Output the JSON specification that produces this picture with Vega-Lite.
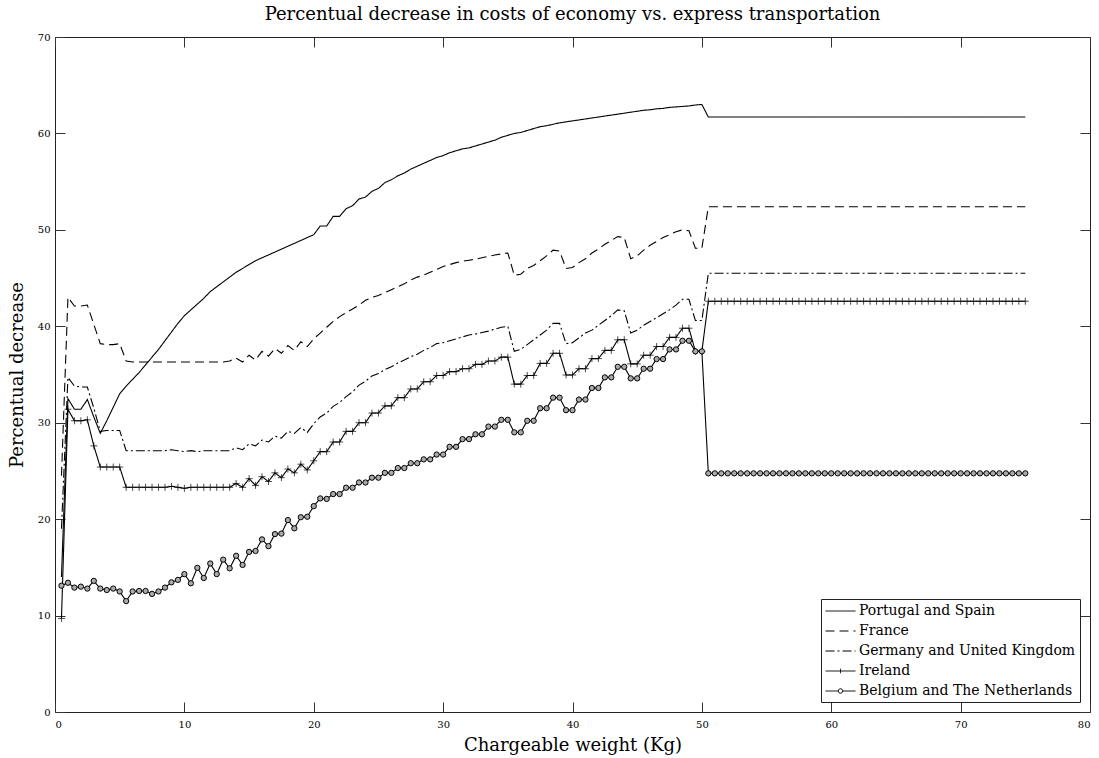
{
"$schema": "https://vega.github.io/schema/vega-lite/v6.json",
"width": 1035, "height": 675,
"autosize": {"type": "none"},
"padding": {"left": 55, "top": 37, "right": 9, "bottom": 46},
"background": "white",
"title": {"text": "Percentual decrease in costs of economy vs. express transportation", "font": "DejaVu Serif", "fontSize": 18, "fontWeight": "normal", "color": "black", "offset": 8, "anchor": "middle"},
"data": {"values": [
{"x":0.5,"P":14,"F":24.5,"G":19,"I":9.7,"B":13.1},
{"x":1,"P":32.5,"F":43.0,"G":34.7,"I":31.4,"B":13.4},
{"x":1.5,"P":31.4,"F":42.1,"G":33.8,"I":30.2,"B":12.9},
{"x":2,"P":31.4,"F":42.1,"G":33.7,"I":30.2,"B":13.0},
{"x":2.5,"P":32.4,"F":42.2,"G":33.7,"I":30.3,"B":12.8},
{"x":3,"P":30.6,"F":40.2,"G":31.5,"I":27.6,"B":13.6},
{"x":3.5,"P":28.9,"F":38.2,"G":29.1,"I":25.4,"B":12.8},
{"x":4,"P":30.2,"F":38.1,"G":29.2,"I":25.4,"B":12.65},
{"x":4.5,"P":31.6,"F":38.1,"G":29.2,"I":25.4,"B":12.8},
{"x":5,"P":33.0,"F":38.2,"G":29.2,"I":25.4,"B":12.5},
{"x":5.5,"P":33.8,"F":36.4,"G":27.1,"I":23.3,"B":11.5},
{"x":6,"P":34.5,"F":36.3,"G":27.1,"I":23.3,"B":12.5},
{"x":6.5,"P":35.2,"F":36.3,"G":27.1,"I":23.3,"B":12.55},
{"x":7,"P":36.0,"F":36.3,"G":27.1,"I":23.3,"B":12.55},
{"x":7.5,"P":36.8,"F":36.3,"G":27.1,"I":23.3,"B":12.25},
{"x":8,"P":37.6,"F":36.3,"G":27.1,"I":23.3,"B":12.5},
{"x":8.5,"P":38.5,"F":36.3,"G":27.1,"I":23.3,"B":12.9},
{"x":9,"P":39.4,"F":36.3,"G":27.2,"I":23.4,"B":13.45},
{"x":9.5,"P":40.3,"F":36.3,"G":27.1,"I":23.3,"B":13.7},
{"x":10,"P":41.1,"F":36.3,"G":27.0,"I":23.2,"B":14.3},
{"x":10.5,"P":41.7,"F":36.3,"G":27.1,"I":23.3,"B":13.35},
{"x":11,"P":42.3,"F":36.3,"G":27.0,"I":23.3,"B":14.95},
{"x":11.5,"P":42.9,"F":36.3,"G":27.1,"I":23.3,"B":13.9},
{"x":12,"P":43.6,"F":36.3,"G":27.1,"I":23.3,"B":15.4},
{"x":12.5,"P":44.1,"F":36.3,"G":27.1,"I":23.3,"B":14.3},
{"x":13,"P":44.6,"F":36.3,"G":27.1,"I":23.3,"B":15.8},
{"x":13.5,"P":45.1,"F":36.4,"G":27.1,"I":23.3,"B":14.9},
{"x":14,"P":45.6,"F":36.7,"G":27.4,"I":23.7,"B":16.2},
{"x":14.5,"P":46.0,"F":36.3,"G":27.2,"I":23.3,"B":15.25},
{"x":15,"P":46.4,"F":37.0,"G":27.8,"I":24.2,"B":16.6},
{"x":15.5,"P":46.8,"F":36.5,"G":27.6,"I":23.5,"B":16.7},
{"x":16,"P":47.1,"F":37.4,"G":28.2,"I":24.4,"B":17.9},
{"x":16.5,"P":47.4,"F":36.9,"G":28.0,"I":23.9,"B":17.2},
{"x":17,"P":47.7,"F":37.7,"G":28.6,"I":24.8,"B":18.45},
{"x":17.5,"P":48.0,"F":37.2,"G":28.4,"I":24.3,"B":18.5},
{"x":18,"P":48.3,"F":38.0,"G":29.1,"I":25.2,"B":19.9},
{"x":18.5,"P":48.6,"F":37.5,"G":28.9,"I":24.8,"B":19.05},
{"x":19,"P":48.9,"F":38.4,"G":29.5,"I":25.7,"B":20.2},
{"x":19.5,"P":49.2,"F":37.9,"G":29.0,"I":25.1,"B":20.25},
{"x":20,"P":49.5,"F":38.7,"G":29.9,"I":26.05,"B":21.35},
{"x":20.5,"P":50.4,"F":39.3,"G":30.6,"I":27.0,"B":22.15},
{"x":21,"P":50.4,"F":39.9,"G":31.0,"I":27.0,"B":22.1},
{"x":21.5,"P":51.4,"F":40.5,"G":31.7,"I":28.0,"B":22.6},
{"x":22,"P":51.4,"F":41.0,"G":32.1,"I":28.0,"B":22.6},
{"x":22.5,"P":52.2,"F":41.4,"G":32.7,"I":29.1,"B":23.26},
{"x":23,"P":52.5,"F":41.8,"G":33.2,"I":29.1,"B":23.26},
{"x":23.5,"P":53.2,"F":42.2,"G":33.9,"I":30.0,"B":23.8},
{"x":24,"P":53.4,"F":42.7,"G":34.3,"I":30.0,"B":23.8},
{"x":24.5,"P":54.0,"F":43.0,"G":34.85,"I":31.0,"B":24.3},
{"x":25,"P":54.3,"F":43.2,"G":35.1,"I":31.0,"B":24.3},
{"x":25.5,"P":54.9,"F":43.5,"G":35.5,"I":31.75,"B":24.8},
{"x":26,"P":55.2,"F":43.8,"G":35.8,"I":31.75,"B":24.8},
{"x":26.5,"P":55.6,"F":44.1,"G":36.2,"I":32.6,"B":25.3},
{"x":27,"P":55.9,"F":44.4,"G":36.5,"I":32.6,"B":25.3},
{"x":27.5,"P":56.3,"F":44.8,"G":36.85,"I":33.5,"B":25.8},
{"x":28,"P":56.6,"F":45.1,"G":37.1,"I":33.5,"B":25.8},
{"x":28.5,"P":56.9,"F":45.3,"G":37.5,"I":34.25,"B":26.2},
{"x":29,"P":57.2,"F":45.6,"G":37.8,"I":34.25,"B":26.2},
{"x":29.5,"P":57.5,"F":45.9,"G":38.2,"I":34.9,"B":26.7},
{"x":30,"P":57.7,"F":46.2,"G":38.3,"I":34.9,"B":26.7},
{"x":30.5,"P":58.0,"F":46.4,"G":38.5,"I":35.3,"B":27.5},
{"x":31,"P":58.2,"F":46.6,"G":38.7,"I":35.3,"B":27.5},
{"x":31.5,"P":58.4,"F":46.75,"G":38.9,"I":35.6,"B":28.3},
{"x":32,"P":58.5,"F":46.85,"G":39.1,"I":35.6,"B":28.3},
{"x":32.5,"P":58.7,"F":46.95,"G":39.2,"I":36.05,"B":28.8},
{"x":33,"P":58.9,"F":47.1,"G":39.35,"I":36.05,"B":28.8},
{"x":33.5,"P":59.1,"F":47.25,"G":39.5,"I":36.4,"B":29.6},
{"x":34,"P":59.3,"F":47.4,"G":39.7,"I":36.4,"B":29.6},
{"x":34.5,"P":59.6,"F":47.5,"G":39.9,"I":36.8,"B":30.3},
{"x":35,"P":59.8,"F":47.6,"G":40.0,"I":36.8,"B":30.3},
{"x":35.5,"P":60.0,"F":45.3,"G":37.4,"I":34.0,"B":29.0},
{"x":36,"P":60.1,"F":45.4,"G":37.6,"I":34.0,"B":29.0},
{"x":36.5,"P":60.3,"F":46.0,"G":38.1,"I":34.9,"B":30.2},
{"x":37,"P":60.5,"F":46.3,"G":38.6,"I":34.9,"B":30.2},
{"x":37.5,"P":60.7,"F":46.8,"G":39.1,"I":36.15,"B":31.5},
{"x":38,"P":60.8,"F":47.3,"G":39.6,"I":36.15,"B":31.5},
{"x":38.5,"P":60.95,"F":47.9,"G":40.3,"I":37.2,"B":32.6},
{"x":39,"P":61.1,"F":47.8,"G":40.3,"I":37.2,"B":32.6},
{"x":39.5,"P":61.2,"F":46.0,"G":38.2,"I":34.95,"B":31.3},
{"x":40,"P":61.3,"F":46.1,"G":38.3,"I":34.95,"B":31.3},
{"x":40.5,"P":61.4,"F":46.6,"G":38.8,"I":35.6,"B":32.4},
{"x":41,"P":61.5,"F":47.0,"G":39.3,"I":35.6,"B":32.4},
{"x":41.5,"P":61.6,"F":47.6,"G":39.6,"I":36.65,"B":33.6},
{"x":42,"P":61.7,"F":48.0,"G":40.1,"I":36.65,"B":33.6},
{"x":42.5,"P":61.8,"F":48.5,"G":40.6,"I":37.5,"B":34.7},
{"x":43,"P":61.9,"F":48.9,"G":41.1,"I":37.5,"B":34.7},
{"x":43.5,"P":62.0,"F":49.3,"G":41.7,"I":38.6,"B":35.8},
{"x":44,"P":62.1,"F":49.2,"G":41.6,"I":38.6,"B":35.8},
{"x":44.5,"P":62.2,"F":47.0,"G":39.3,"I":36.1,"B":34.6},
{"x":45,"P":62.3,"F":47.3,"G":39.6,"I":36.1,"B":34.6},
{"x":45.5,"P":62.4,"F":47.9,"G":40.1,"I":37.0,"B":35.6},
{"x":46,"P":62.45,"F":48.4,"G":40.5,"I":37.0,"B":35.6},
{"x":46.5,"P":62.55,"F":48.8,"G":40.9,"I":37.9,"B":36.6},
{"x":47,"P":62.6,"F":49.2,"G":41.3,"I":37.9,"B":36.6},
{"x":47.5,"P":62.7,"F":49.5,"G":41.7,"I":38.85,"B":37.6},
{"x":48,"P":62.75,"F":49.8,"G":42.2,"I":38.85,"B":37.6},
{"x":48.5,"P":62.8,"F":50.0,"G":42.8,"I":39.8,"B":38.5},
{"x":49,"P":62.85,"F":49.9,"G":42.8,"I":39.8,"B":38.5},
{"x":49.5,"P":62.95,"F":48.1,"G":40.6,"I":37.4,"B":37.4},
{"x":50,"P":63.0,"F":48.1,"G":40.6,"I":37.4,"B":37.4},
{"x":50.5,"P":61.7,"F":52.4,"G":45.5,"I":42.6,"B":24.75},
{"x":51,"P":61.7,"F":52.4,"G":45.5,"I":42.6,"B":24.75},
{"x":51.5,"P":61.7,"F":52.4,"G":45.5,"I":42.6,"B":24.75},
{"x":52,"P":61.7,"F":52.4,"G":45.5,"I":42.6,"B":24.75},
{"x":52.5,"P":61.7,"F":52.4,"G":45.5,"I":42.6,"B":24.75},
{"x":53,"P":61.7,"F":52.4,"G":45.5,"I":42.6,"B":24.75},
{"x":53.5,"P":61.7,"F":52.4,"G":45.5,"I":42.6,"B":24.75},
{"x":54,"P":61.7,"F":52.4,"G":45.5,"I":42.6,"B":24.75},
{"x":54.5,"P":61.7,"F":52.4,"G":45.5,"I":42.6,"B":24.75},
{"x":55,"P":61.7,"F":52.4,"G":45.5,"I":42.6,"B":24.75},
{"x":55.5,"P":61.7,"F":52.4,"G":45.5,"I":42.6,"B":24.75},
{"x":56,"P":61.7,"F":52.4,"G":45.5,"I":42.6,"B":24.75},
{"x":56.5,"P":61.7,"F":52.4,"G":45.5,"I":42.6,"B":24.75},
{"x":57,"P":61.7,"F":52.4,"G":45.5,"I":42.6,"B":24.75},
{"x":57.5,"P":61.7,"F":52.4,"G":45.5,"I":42.6,"B":24.75},
{"x":58,"P":61.7,"F":52.4,"G":45.5,"I":42.6,"B":24.75},
{"x":58.5,"P":61.7,"F":52.4,"G":45.5,"I":42.6,"B":24.75},
{"x":59,"P":61.7,"F":52.4,"G":45.5,"I":42.6,"B":24.75},
{"x":59.5,"P":61.7,"F":52.4,"G":45.5,"I":42.6,"B":24.75},
{"x":60,"P":61.7,"F":52.4,"G":45.5,"I":42.6,"B":24.75},
{"x":60.5,"P":61.7,"F":52.4,"G":45.5,"I":42.6,"B":24.75},
{"x":61,"P":61.7,"F":52.4,"G":45.5,"I":42.6,"B":24.75},
{"x":61.5,"P":61.7,"F":52.4,"G":45.5,"I":42.6,"B":24.75},
{"x":62,"P":61.7,"F":52.4,"G":45.5,"I":42.6,"B":24.75},
{"x":62.5,"P":61.7,"F":52.4,"G":45.5,"I":42.6,"B":24.75},
{"x":63,"P":61.7,"F":52.4,"G":45.5,"I":42.6,"B":24.75},
{"x":63.5,"P":61.7,"F":52.4,"G":45.5,"I":42.6,"B":24.75},
{"x":64,"P":61.7,"F":52.4,"G":45.5,"I":42.6,"B":24.75},
{"x":64.5,"P":61.7,"F":52.4,"G":45.5,"I":42.6,"B":24.75},
{"x":65,"P":61.7,"F":52.4,"G":45.5,"I":42.6,"B":24.75},
{"x":65.5,"P":61.7,"F":52.4,"G":45.5,"I":42.6,"B":24.75},
{"x":66,"P":61.7,"F":52.4,"G":45.5,"I":42.6,"B":24.75},
{"x":66.5,"P":61.7,"F":52.4,"G":45.5,"I":42.6,"B":24.75},
{"x":67,"P":61.7,"F":52.4,"G":45.5,"I":42.6,"B":24.75},
{"x":67.5,"P":61.7,"F":52.4,"G":45.5,"I":42.6,"B":24.75},
{"x":68,"P":61.7,"F":52.4,"G":45.5,"I":42.6,"B":24.75},
{"x":68.5,"P":61.7,"F":52.4,"G":45.5,"I":42.6,"B":24.75},
{"x":69,"P":61.7,"F":52.4,"G":45.5,"I":42.6,"B":24.75},
{"x":69.5,"P":61.7,"F":52.4,"G":45.5,"I":42.6,"B":24.75},
{"x":70,"P":61.7,"F":52.4,"G":45.5,"I":42.6,"B":24.75},
{"x":70.5,"P":61.7,"F":52.4,"G":45.5,"I":42.6,"B":24.75},
{"x":71,"P":61.7,"F":52.4,"G":45.5,"I":42.6,"B":24.75},
{"x":71.5,"P":61.7,"F":52.4,"G":45.5,"I":42.6,"B":24.75},
{"x":72,"P":61.7,"F":52.4,"G":45.5,"I":42.6,"B":24.75},
{"x":72.5,"P":61.7,"F":52.4,"G":45.5,"I":42.6,"B":24.75},
{"x":73,"P":61.7,"F":52.4,"G":45.5,"I":42.6,"B":24.75},
{"x":73.5,"P":61.7,"F":52.4,"G":45.5,"I":42.6,"B":24.75},
{"x":74,"P":61.7,"F":52.4,"G":45.5,"I":42.6,"B":24.75},
{"x":74.5,"P":61.7,"F":52.4,"G":45.5,"I":42.6,"B":24.75},
{"x":75,"P":61.7,"F":52.4,"G":45.5,"I":42.6,"B":24.75}
]},
"transform": [{"fold": ["P", "F", "G", "I", "B"], "as": ["series", "value"]}],
"config": {
  "view": {"stroke": "#222", "strokeWidth": 1},
  "axis": {"grid": false, "domain": false, "tickSize": -10, "tickColor": "#333", "tickWidth": 1,
           "labelFont": "DejaVu Serif", "labelFontSize": 10, "labelColor": "black",
           "titleFont": "DejaVu Serif", "titleFontSize": 18, "titleFontWeight": "normal", "titleColor": "black"}
},
"layer": [
  {
    "mark": {"type": "line", "color": "black", "strokeWidth": 1.1},
    "encoding": {
      "x": {"field": "x", "type": "quantitative", "scale": {"domain": [0, 80], "nice": false},
            "axis": {"orient": "bottom", "values": [0,10,20,30,40,50,60,70,80], "labelPadding": 17, "title": "Chargeable weight (Kg)", "titlePadding": 7}},
      "y": {"field": "value", "type": "quantitative", "scale": {"domain": [0, 70], "nice": false},
            "axis": {"orient": "left", "values": [0,10,20,30,40,50,60,70], "labelPadding": 15, "title": "Percentual decrease", "titlePadding": 11}},
      "strokeDash": {"field": "series", "type": "nominal",
        "scale": {"domain": ["P", "F", "G", "I", "B"], "range": [[1, 0], [9, 5], [9, 3, 2, 3], [1, 0], [1, 0]]},
        "legend": {"title": null, "orient": "bottom-right", "offset": 10, "strokeColor": "#222", "fillColor": "white",
          "padding": 4, "symbolType": "stroke", "symbolSize": 225, "symbolStrokeWidth": 1, "symbolStrokeColor": "black",
          "labelFont": "DejaVu Serif", "labelFontSize": 14, "labelColor": "black", "labelLimit": 400, "rowPadding": 5, "labelOffset": 18,
          "labelExpr": "datum.label === 'P' ? 'Portugal and Spain' : datum.label === 'F' ? 'France' : datum.label === 'G' ? 'Germany and United Kingdom' : datum.label === 'I' ? 'Ireland' : 'Belgium and The Netherlands'",
          "encode": {"symbols": {"update": {"shape": {"signal": "datum.value === 'I' ? 'M-1,0H3M1,-0.3V0.3' : datum.value === 'B' ? 'M-1,0H0.7M1.3,0H3M1.3,0A0.3,0.3,0,1,1,0.7,0A0.3,0.3,0,1,1,1.3,0' : 'M-1,0H3'"}}}}
        }
      }
    }
  },
  {
    "transform": [{"filter": "datum.series === 'I'"}],
    "mark": {"type": "point", "shape": "M-1,0H1M0,-1V1", "size": 49, "filled": false, "stroke": "black", "strokeWidth": 1},
    "encoding": {
      "x": {"field": "x", "type": "quantitative", "axis": {"orient": "top", "values": [0,10,20,30,40,50,60,70,80], "labels": false, "title": null}},
      "y": {"field": "value", "type": "quantitative", "axis": {"orient": "right", "values": [0,10,20,30,40,50,60,70], "labels": false, "title": null}}
    }
  },
  {
    "transform": [{"filter": "datum.series === 'B'"}],
    "mark": {"type": "point", "shape": "circle", "size": 28, "filled": true, "fill": "#aaa", "stroke": "black", "strokeWidth": 1, "opacity": 1},
    "encoding": {
      "x": {"field": "x", "type": "quantitative", "axis": null},
      "y": {"field": "value", "type": "quantitative", "axis": null}
    }
  }
],
"resolve": {"axis": {"x": "independent", "y": "independent"}}
}
